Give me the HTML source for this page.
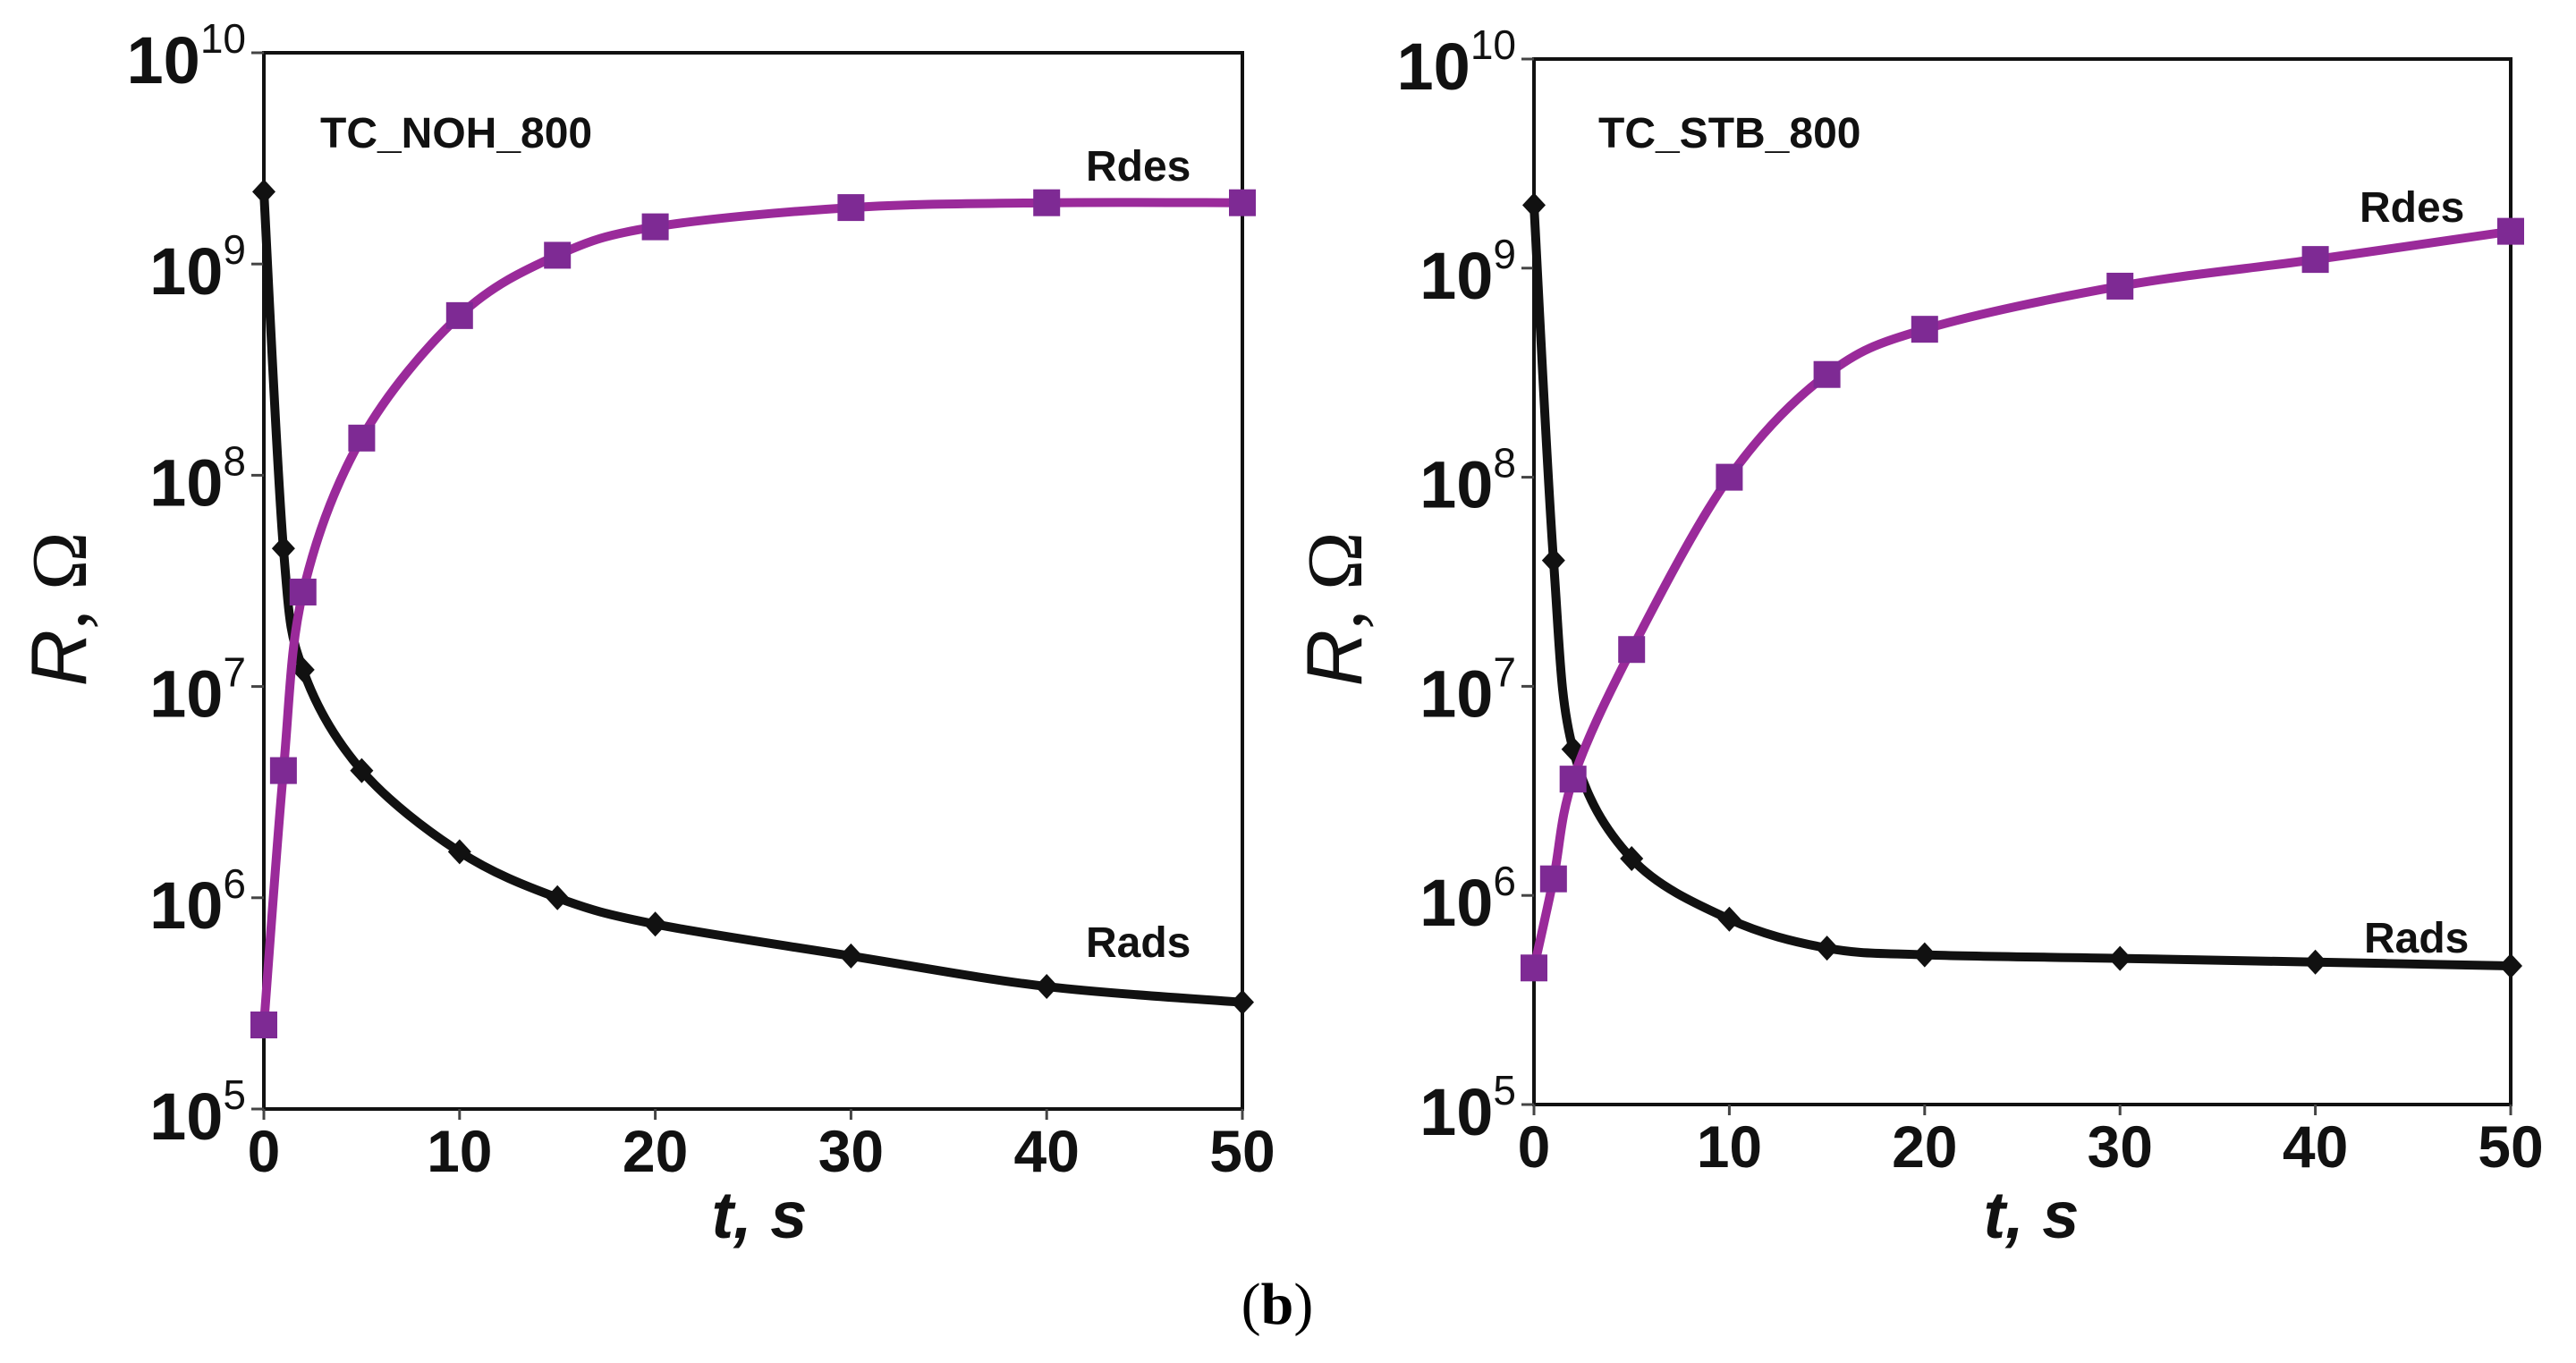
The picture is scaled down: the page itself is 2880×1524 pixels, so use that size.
<!DOCTYPE html>
<html><head><meta charset="utf-8">
<style>
html,body{margin:0;padding:0;background:#fff;}
svg{display:block;}
.tick{font-family:"Liberation Sans",sans-serif;font-weight:bold;fill:#111;}
</style></head>
<body>
<svg id="fig" width="2880" height="1524" viewBox="0 0 2880 1524">
<rect x="0" y="0" width="2880" height="1524" fill="#fff"/>
<text x="1428" y="1480" text-anchor="middle" font-family="'Liberation Serif',serif" font-size="66" fill="#000">(<tspan font-weight="bold">b</tspan>)</text>
</svg>
<script>
const tValues = [0, 1, 2, 5, 10, 15, 20, 30, 40, 50];
const leftRads = [2.2e9, 4.5e7, 1.2e7, 4e6, 1.65e6, 1e6, 7.5e5, 5.3e5, 3.8e5, 3.2e5];
const leftRdes = [2.5e5, 4e6, 2.8e7, 1.5e8, 5.7e8, 1.1e9, 1.5e9, 1.85e9, 1.95e9, 1.95e9];
const rightRads = [2e9, 4e7, 5e6, 1.5e6, 7.7e5, 5.6e5, 5.2e5, 5e5, 4.8e5, 4.6e5];
const rightRdes = [4.5e5, 1.2e6, 3.6e6, 1.5e7, 1e8, 3.1e8, 5.1e8, 8.2e8, 1.1e9, 1.5e9];
const xTicks = [0, 10, 20, 30, 40, 50];
const yExps = [5, 6, 7, 8, 9, 10];
const panelTitles = ["TC_NOH_800", "TC_STB_800"];

const NS = "http://www.w3.org/2000/svg";
const svg = document.getElementById("fig");
function mk(tag, attrs, parent) {
  const e = document.createElementNS(NS, tag);
  for (const k in attrs) e.setAttribute(k, attrs[k]);
  (parent || svg).appendChild(e);
  return e;
}
function smoothPath(pts) {
  let d = "M" + pts[0][0] + "," + pts[0][1];
  for (let i = 0; i < pts.length - 1; i++) {
    const p0 = pts[Math.max(i - 1, 0)], p1 = pts[i], p2 = pts[i + 1], p3 = pts[Math.min(i + 2, pts.length - 1)];
    const c1x = p1[0] + (p2[0] - p0[0]) / 6, c1y = p1[1] + (p2[1] - p0[1]) / 6;
    const c2x = p2[0] - (p3[0] - p1[0]) / 6, c2y = p2[1] - (p3[1] - p1[1]) / 6;
    d += " C" + c1x + "," + c1y + " " + c2x + "," + c2y + " " + p2[0] + "," + p2[1];
  }
  return d;
}
function drawPanel(cfg) {
  const g = mk("g", {});
  
  
  const X = t => cfg.x0 + (cfg.x1 - cfg.x0) * t / 50;
  const Y = v => cfg.y1 - (cfg.y1 - cfg.y0) * (Math.log10(v) - 5) / 5;
  const frame = mk("rect", {x: cfg.x0, y: cfg.y0, width: cfg.x1 - cfg.x0, height: cfg.y1 - cfg.y0, fill: "none", stroke: "#111", "stroke-width": 4}, g);
  
  
  xTicks.forEach(t => {
    mk("line", {x1: X(t), x2: X(t), y1: cfg.y1, y2: cfg.y1 + 12, stroke: "#444", "stroke-width": 3}, g);
    const lb = mk("text", {x: X(t), y: cfg.y1 + 70, "text-anchor": "middle", "font-size": 66, class: "tick"}, g);
    lb.textContent = t;
    
    
  });
  yExps.forEach(e => {
    const y = Y(Math.pow(10, e));
    mk("line", {x1: cfg.x0 - 14, x2: cfg.x0, y1: y, y2: y, stroke: "#444", "stroke-width": 3}, g);
    const lb = mk("text", {x: cfg.x0 - 20, y: y + 34, "text-anchor": "end", "font-size": 74, class: "tick"}, g);
    
    
    const a = mk("tspan", {}, lb); a.textContent = "10";
    const b = mk("tspan", {dy: -34, "font-size": 46, "font-weight": "normal"}, lb); b.textContent = e;
  });
  const series = [
    {vals: cfg.rads, color: "#111", name: "rads-line", marker: "diamond"},
    {vals: cfg.rdes, color: "#9a2a9a", name: "rdes-line", marker: "square"}
  ];
  series.forEach(s => {
    const pts = tValues.map((t, i) => [X(t), Y(s.vals[i])]);
    const p = mk("path", {d: smoothPath(pts), fill: "none", stroke: s.color, "stroke-width": 10, "stroke-linejoin": "round"}, g);
    
    
    pts.forEach(pt => {
      let m;
      if (s.marker === "square") {
        m = mk("rect", {x: pt[0] - 15, y: pt[1] - 15, width: 30, height: 30, fill: "#7e2a94"}, g);
      } else {
        m = mk("polygon", {points: [pt[0], pt[1] - 14, pt[0] + 13, pt[1], pt[0], pt[1] + 14, pt[0] - 13, pt[1]].join(","), fill: "#111"}, g);
      }
      
      
    });
  });
  const txt = (str, x, y, size, extra, name) => {
    const e = mk("text", Object.assign({x: x, y: y, "font-size": size, "font-family": "'Liberation Sans',sans-serif", "font-weight": "bold", fill: "#111"}, extra || {}), g);
    e.textContent = str;
    
    
    return e;
  };
  txt(cfg.title, cfg.titleX, 165, 48, {}, "panel-title");
  txt("Rdes", cfg.rdesX, cfg.rdesY, 48, {}, "rdes-label");
  txt("Rads", cfg.radsX, cfg.radsY, 48, {}, "rads-label");
  txt("t, s", cfg.xTitleX, 1384, 74, {"text-anchor": "middle", "font-style": "italic"}, "x-axis-title");
  const yt = txt("", 0, 0, 88, {"text-anchor": "middle", "font-weight": "normal", transform: "translate(" + cfg.yTitleX + ",681) rotate(-90)"}, "y-axis-title");
  const r = mk("tspan", {"font-style": "italic"}, yt); r.textContent = "R";
  const om = mk("tspan", {"font-family": "'Liberation Serif',serif"}, yt); om.textContent = ", Ω";
}
drawPanel({name: "left-chart", x0: 295, x1: 1389, y0: 59, y1: 1240, rads: leftRads, rdes: leftRdes, title: panelTitles[0], titleX: 358,
  rdesX: 1214, rdesY: 202, radsX: 1214, radsY: 1070, xTitleX: 849, yTitleX: 96});
drawPanel({name: "right-chart", x0: 1715, x1: 2807, y0: 66, y1: 1235, rads: rightRads, rdes: rightRdes, title: panelTitles[1], titleX: 1787,
  rdesX: 2638, rdesY: 248, radsX: 2643, radsY: 1065, xTitleX: 2271, yTitleX: 1522});
</script>
</body></html>
